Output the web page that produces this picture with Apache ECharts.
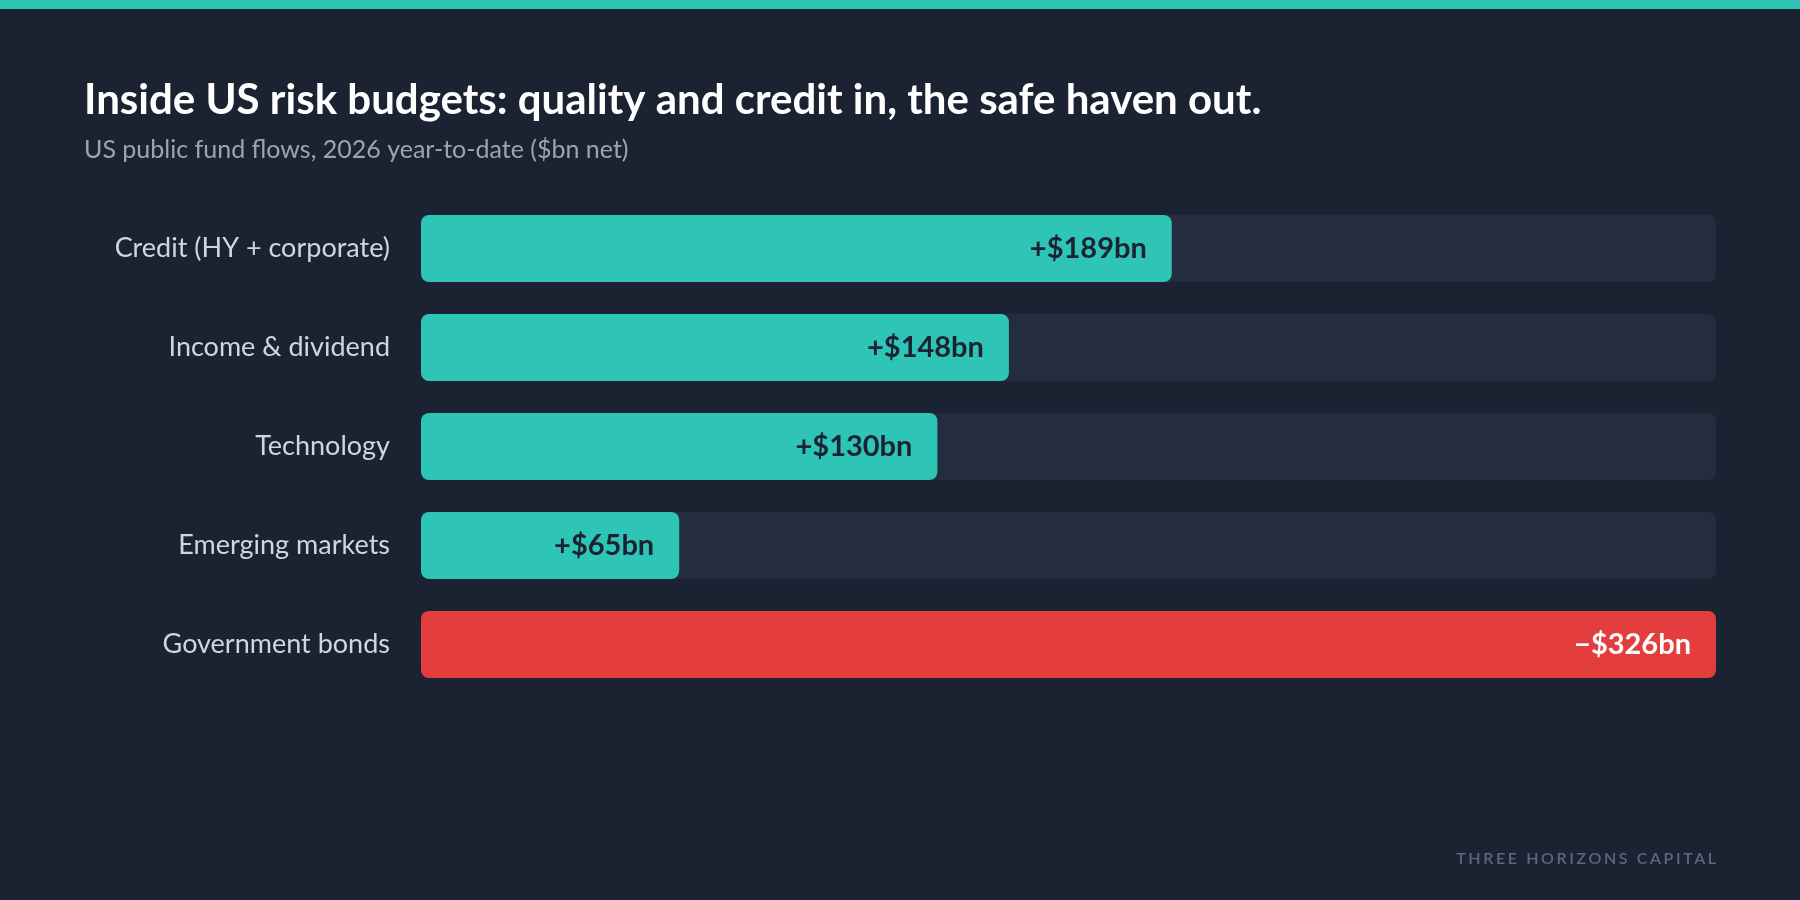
<!DOCTYPE html>
<html>
<head>
<meta charset="utf-8">
<title>Inside US risk budgets</title>
<script src="https://cdn.jsdelivr.net/npm/echarts@6/dist/echarts.min.js"></script>
<style>
  html, body { margin: 0; padding: 0; background: #1b2333; }
  #wrap { position: relative; width: 1800px; height: 900px; }
  #chart { width: 1800px; height: 900px; }
  /* 页脚署名，需要字间距 */
  .brand {
    position: absolute;
    right: 84px;
    top: 848px;
    font-family: Lato, sans-serif;
    font-weight: 600;
    font-size: 16px;
    letter-spacing: 2.6px;
    margin-right: -2.6px;
    color: #5a697e;
  }
</style>
</head>
<body>
<div id="wrap">
  <div id="chart"></div>
  <div class="brand">THREE HORIZONS CAPITAL</div>
</div>
<script>
// 数据
const categories = ['Credit (HY + corporate)', 'Income & dividend', 'Technology', 'Emerging markets', 'Government bonds']
const flows = [189, 148, 130, 65, -326]
const labels = ['+$189bn', '+$148bn', '+$130bn', '+$65bn', '\u2212$326bn']

const FONT = 'Lato, sans-serif'
const TEAL = '#2ec4b6'
const RED = '#e33d3d'

const chart = echarts.init(document.getElementById('chart'))

chart.setOption({
  backgroundColor: '#1b2333',
  animation: false,
  title: {
    text: 'Inside US risk budgets: quality and credit in, the safe haven out.',
    subtext: 'US public fund flows, 2026 year-to-date ($bn net)',
    left: 79,
    top: 74,
    itemGap: 16,
    textStyle: { color: '#ffffff', fontFamily: FONT, fontWeight: 'bold', fontSize: 42 },
    subtextStyle: { color: '#9aa5b4', fontFamily: FONT, fontSize: 25 }
  },
  graphic: [
    // 顶部色条
    { type: 'rect', left: 0, top: 0, shape: { width: 1800, height: 9 }, style: { fill: TEAL } }
  ],
  grid: { left: 421, right: 84, top: 199, bottom: 206 },
  xAxis: {
    type: 'value',
    min: 0,
    max: 326,
    show: false
  },
  yAxis: {
    type: 'category',
    inverse: true,
    data: categories,
    axisLine: { show: false },
    axisTick: { show: false },
    axisLabel: { color: '#d0d6df', fontFamily: FONT, fontSize: 27, margin: 31 }
  },
  series: [
    {
      type: 'bar',
      barWidth: 67,
      showBackground: true,
      backgroundStyle: { color: '#242d3d', borderRadius: 8 },
      data: flows.map(v => ({
        value: Math.abs(v),
        itemStyle: { color: v < 0 ? RED : TEAL, borderRadius: 8 },
        label: { color: v < 0 ? '#ffffff' : '#1b2333' }
      })),
      label: {
        show: true,
        position: 'insideRight',
        distance: 25,
        fontFamily: FONT,
        fontWeight: 'bold',
        fontSize: 29,
        formatter: p => labels[p.dataIndex]
      }
    }
  ]
})
</script>
</body>
</html>
